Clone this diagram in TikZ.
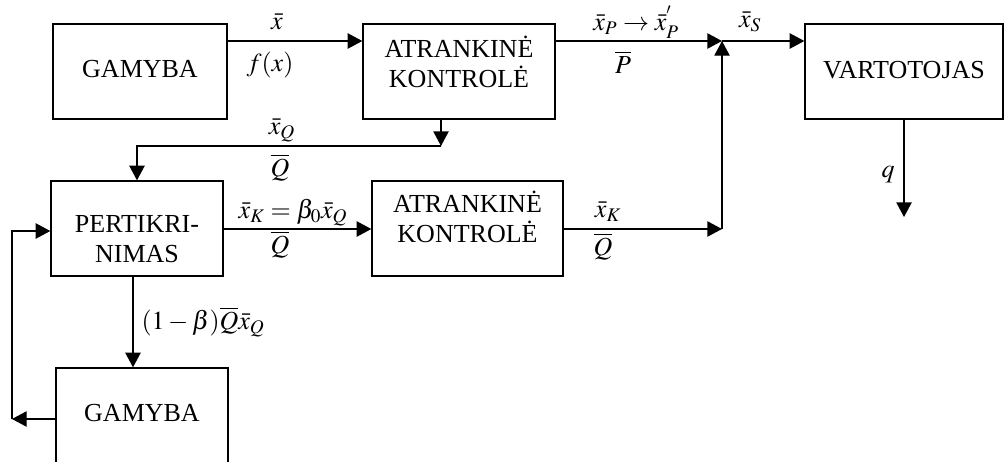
\documentclass[tikz,border=0pt]{standalone}
\usepackage{mathptmx}
\usepackage[no-math]{fontspec}
\setmainfont{Liberation Serif}
\usetikzlibrary{arrows.meta}
\begin{document}
\begin{tikzpicture}[x=0.75pt,y=-0.75pt, line width=1pt,
  box/.style={draw, line width=1pt, minimum height=71.25pt, inner sep=0pt},
  btxt/.style={align=center, inner sep=0pt, font=\fontsize{19.5}{22.5}\selectfont},
  arr/.style={-{Triangle[length=11pt,width=11.5pt]}},
  lbl/.style={inner sep=0pt, font=\fontsize{19.5}{22}\selectfont}]
\useasboundingbox (0,0) rectangle (1005,461);
\clip (0,0) rectangle (1005,461);
% boxes
\node[box, minimum width=130.5pt] (gam1) at (140,71.5) {};
\node[box, minimum width=144pt] (atr1) at (459,71.5) {};
\node[box, minimum width=148.5pt] (vart) at (904,71.5) {};
\node[box, minimum width=129pt] (pert) at (137,228.5) {};
\node[box, minimum width=143.25pt] (atr2) at (467.5,228.5) {};
\node[box, minimum width=129pt] (gam2) at (142,415.5) {};
% box texts
\node[btxt] (gam1t) at (140,69.5) {GAMYBA};
\node[btxt] (atr1t) at (459,61.5) {ATRANKINĖ\\KONTROLĖ};
\node[btxt] (vartt) at (904,70) {VARTOTOJAS};
\node[btxt] (pertt) at (137,239) {PERTIKRI-\\NIMAS};
\node[btxt] (atr2t) at (467.5,216.5) {ATRANKINĖ\\KONTROLĖ};
\node[btxt] (gam2t) at (142,413) {GAMYBA};
% helper points
\coordinate (J) at (722,41);
\coordinate (K) at (722,229);
\coordinate (D) at (441,146);
\coordinate (E) at (137,146);
\coordinate (F) at (12,419);
\coordinate (G) at (12,231);
\coordinate (H) at (133,300);
\coordinate (Qe) at (904,217);
% connectors
\draw[arr] (gam1.east |- J) -- (atr1.west |- J);
\draw[arr] (atr1.east |- J) -- (J);
\draw[arr] (J) -- (vart.west |- J);
\draw[arr] (atr1.south -| D) -- (D);
\draw[arr] (D) -- (E) -- (pert.north -| E);
\draw[arr] (pert.east |- K) -- (atr2.west |- K);
\draw[arr] (atr2.east |- K) -- (K);
\draw[arr] (K) -- (J);
\draw[arr] (vart.south) -- (Qe);
\draw[arr] (pert.south -| H) -- (gam2.north -| H);
\draw[arr] (gam2.west |- F) -- (F);
\draw[arr] (F) -- (G) -- (pert.west |- G);
% labels
\node[lbl] (l1) at (277,22) {$\bar{x}$};
\node[lbl] (l2) at (270,65) {$f(x)$};
\node[lbl] (l3) at (636,22) {$\bar{x}_P \rightarrow \bar{x}_P^{'}$};
\node[lbl] (l4) at (623,62) {$\overline{P}$};
\node[lbl] (l5) at (750,22) {$\bar{x}_S$};
\node[lbl] (l6) at (282,130) {$\bar{x}_Q$};
\node[lbl] (l7) at (280,168) {$\overline{Q}$};
\node[lbl] (l8) at (293,213) {$\bar{x}_K = \beta_0\bar{x}_Q$};
\node[lbl] (l9) at (280,245) {$\overline{Q}$};
\node[lbl] (l10) at (608,212) {$\bar{x}_K$};
\node[lbl] (l11) at (603,247) {$\overline{Q}$};
\node[lbl] (l12) at (203,322) {$(1-\beta)\overline{Q}\bar{x}_Q$};
\node[lbl] (l13) at (888,175) {$q$};
\end{tikzpicture}
\end{document}
